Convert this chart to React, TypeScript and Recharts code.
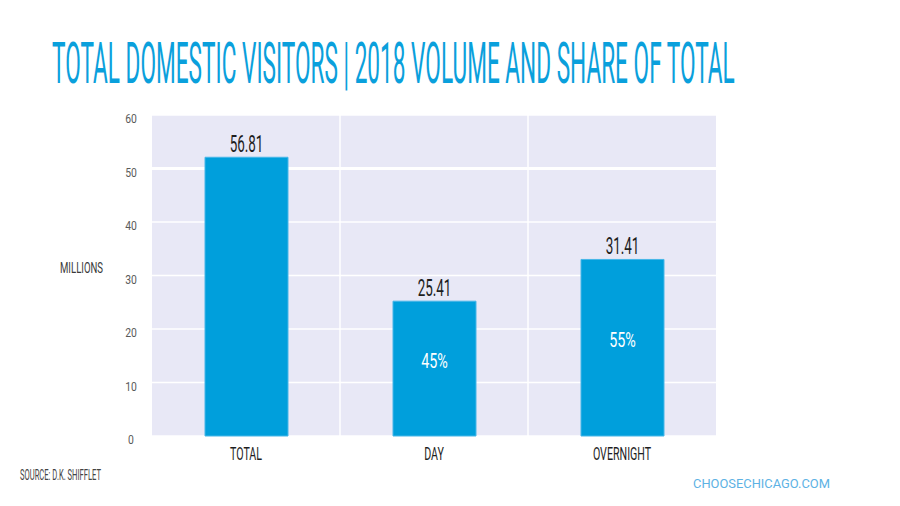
import React from "react";
import {
  BarChart,
  Bar,
  XAxis,
  YAxis,
  CartesianGrid,
  LabelList,
} from "recharts";

const categories = ["TOTAL", "DAY", "OVERNIGHT"];
const barValues = [52.1, 25.2, 33.0];
const valueLabels = ["56.81", "25.41", "31.41"];
const shareLabels = ["", "45%", "55%"];
const yTicks = [0, 10, 20, 30, 40, 50, 60];

const titleText = "TOTAL DOMESTIC VISITORS | 2018 VOLUME AND SHARE OF TOTAL";
const yAxisTitle = "MILLIONS";
const sourceText = "SOURCE: D.K. SHIFFLET";
const siteText = "CHOOSECHICAGO.COM";

const data = categories.map((c, i) => ({
  category: c,
  value: barValues[i],
  label: valueLabels[i],
  share: shareLabels[i],
}));

const FONT = "Roboto, 'Noto Sans', sans-serif";
const BLUE = "#009FDC";

function Narrow({ x, y, sx, size, fill, anchor = "middle", weight = 400, children }: any) {
  return (
    <text
      transform={`translate(${x},${y}) scale(${sx},1)`}
      textAnchor={anchor}
      fontFamily={FONT}
      fontSize={size}
      fontWeight={weight}
      fill={fill}
    >
      {children}
    </text>
  );
}

const YTick = (props: any) => {
  const { x, y, payload } = props;
  return (
    <Narrow x={x} y={y + 8} sx={0.8} size={13} fill="#5a5a5a">
      {payload.value}
    </Narrow>
  );
};

const XTick = (props: any) => {
  const { x, y, payload } = props;
  return (
    <Narrow x={x} y={y + 24} sx={0.57} size={18.7} fill="#1e1e1e">
      {payload.value}
    </Narrow>
  );
};

const ValueLabel = (props: any) => {
  const { x, y, width, value } = props;
  return (
    <Narrow x={x + width / 2} y={y - 5} sx={0.56} size={24} fill="#1e1e1e">
      {value}
    </Narrow>
  );
};

const ShareLabel = (props: any) => {
  const { x, y, width, height, value } = props;
  if (!value) return null;
  return (
    <Narrow x={x + width / 2} y={y + height / 2 - 1} sx={0.7} size={20.5} fill="#ffffff">
      {value}
    </Narrow>
  );
};

// horizontal grid line: the 50 line is drawn heavier, as in the reference
const HLine = (props: any) => {
  const { x1, x2, y1, y2, y, height } = props;
  const y50 = y + height / 6;
  const heavy = Math.abs(y1 - y50) < 1.5;
  return (
    <line
      x1={x1}
      x2={x2}
      y1={y1}
      y2={y2}
      stroke="#ffffff"
      strokeWidth={heavy ? 3 : 1.5}
    />
  );
};

export default function App() {
  return (
    <div
      style={{
        position: "absolute",
        left: 0,
        top: 0,
        width: 900,
        height: 506,
        background: "#ffffff",
        overflow: "hidden",
      }}
    >
      <BarChart
        width={900}
        height={506}
        data={data}
        margin={{ top: 115, right: 184, bottom: 40, left: 122 }}
        barCategoryGap={0}
      >
        <CartesianGrid
          fill="#E8E8F6"
          fillOpacity={1}
          stroke="#ffffff"
          strokeWidth={1.5}
          horizontal={(p: any) => <HLine {...p} />}
          verticalCoordinatesGenerator={({ offset }: any) => [
            offset.left + offset.width / 3,
            offset.left + (2 * offset.width) / 3,
          ]}
        />
        <XAxis
          dataKey="category"
          axisLine={false}
          tickLine={false}
          tickSize={0}
          tickMargin={0}
          height={30}
          tick={<XTick />}
          interval={0}
        />
        <YAxis
          domain={[0, 60]}
          ticks={yTicks}
          axisLine={false}
          tickLine={false}
          tickSize={0}
          tickMargin={21}
          width={30}
          tick={<YTick />}
          interval={0}
        />
        <Bar
          dataKey="value"
          fill={BLUE}
          stroke="#46B6E8"
          strokeWidth={1}
          barSize={83}
          isAnimationActive={false}
        >
          <LabelList dataKey="label" content={<ValueLabel />} />
          <LabelList dataKey="share" content={<ShareLabel />} />
        </Bar>
      </BarChart>
      <svg
        width={900}
        height={506}
        style={{ position: "absolute", left: 0, top: 0, pointerEvents: "none" }}
      >
        <text
          transform="translate(52,82.5) scale(0.4,1)"
          textLength={1707}
          lengthAdjust="spacingAndGlyphs"
          fontFamily={FONT}
          fontSize={57.5}
          fontWeight={400}
          fill="#0AA0DC"
        >
          {titleText}
        </text>
        <text
          x={60}
          y={273}
          textLength={43}
          lengthAdjust="spacingAndGlyphs"
          fontFamily={FONT}
          fontSize={15}
          fill="#3a3a3a"
        >
          {yAxisTitle}
        </text>
        <text
          x={20}
          y={480}
          textLength={81}
          lengthAdjust="spacingAndGlyphs"
          fontFamily={FONT}
          fontSize={14}
          fill="#444444"
        >
          {sourceText}
        </text>
        <text
          x={693}
          y={487.5}
          textLength={137}
          lengthAdjust="spacingAndGlyphs"
          fontFamily={FONT}
          fontSize={12.5}
          fill="#5DB2E4"
        >
          {siteText}
        </text>
      </svg>
    </div>
  );
}
